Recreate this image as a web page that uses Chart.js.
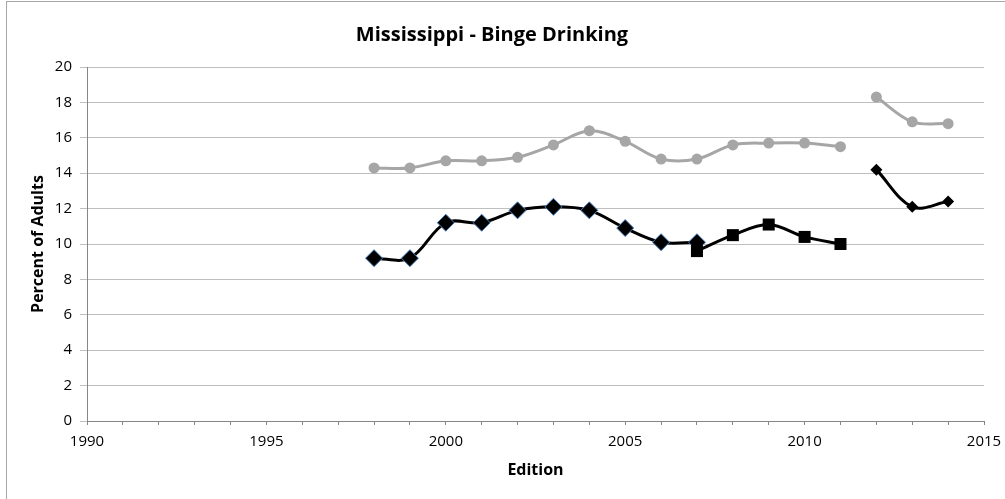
<!DOCTYPE html>
<html>
<head>
<meta charset="utf-8">
<script src="https://cdn.jsdelivr.net/npm/chart.js@4/dist/chart.umd.min.js"></script>
<style>
  html, body { margin: 0; padding: 0; background: #fff; overflow: hidden; }
  #frame { position: absolute; left: 6px; top: 1px; width: 1020px; height: 520px; border: 1px solid #a6a6a6; pointer-events: none; }
  canvas { position: absolute; left: 0; top: 0; }
</style>
</head>
<body>
<canvas id="chart" width="1005" height="499"></canvas>
<div id="frame"></div>
<script>
// all-adults series (gray), old method then new method
const usYearsA = [1998, 1999, 2000, 2001, 2002, 2003, 2004, 2005, 2006, 2007, 2008, 2009, 2010, 2011];
const usValuesA = [14.3, 14.3, 14.7, 14.7, 14.9, 15.6, 16.4, 15.8, 14.8, 14.8, 15.6, 15.7, 15.7, 15.5];
const usYearsB = [2012, 2013, 2014];
const usValuesB = [18.3, 16.9, 16.8];

// Mississippi series (black)
const msYearsA = [1998, 1999, 2000, 2001, 2002, 2003, 2004, 2005, 2006, 2007];
const msValuesA = [9.2, 9.2, 11.2, 11.2, 11.9, 12.1, 11.9, 10.9, 10.1, 10.1];
const msYearsB = [2007, 2008, 2009, 2010, 2011];
const msValuesB = [9.6, 10.5, 11.1, 10.4, 10.0];
const msYearsC = [2012, 2013, 2014];
const msValuesC = [14.2, 12.1, 12.4];

const xMin = 1990, xMax = 2015;
const yTicks = [0, 2, 4, 6, 8, 10, 12, 14, 16, 18, 20];

const pts = (xs, ys) => xs.map((x, i) => ({ x: x, y: ys[i] }));

const GRAY = '#a6a6a6';
const BLACK = '#000000';

const grayStyle = {
  borderColor: GRAY, backgroundColor: GRAY, borderWidth: 3,
  pointStyle: 'circle', pointRadius: 5.5, pointBorderWidth: 0,
  pointBackgroundColor: GRAY, tension: 0.35, order: 2
};

const data = {
  datasets: [
    Object.assign({ data: pts(usYearsA, usValuesA) }, grayStyle),
    Object.assign({ data: pts(usYearsB, usValuesB) }, grayStyle),
    {
      data: pts(msYearsA, msValuesA),
      borderColor: BLACK, borderWidth: 3, tension: 0.35, order: 1,
      pointStyle: 'rectRot', pointRadius: 8.5,
      pointBackgroundColor: BLACK, pointBorderColor: '#4a7ebb', pointBorderWidth: 1
    },
    {
      data: pts(msYearsB, msValuesB),
      borderColor: BLACK, borderWidth: 3, tension: 0.35, order: 0,
      pointStyle: 'rect', pointRadius: 8.5,
      pointBackgroundColor: BLACK, pointBorderColor: BLACK, pointBorderWidth: 0
    },
    {
      data: pts(msYearsC, msValuesC),
      borderColor: BLACK, borderWidth: 3, tension: 0.35, order: 0,
      pointStyle: 'rectRot', pointRadius: 6,
      pointBackgroundColor: BLACK, pointBorderColor: BLACK, pointBorderWidth: 0
    }
  ]
};

new Chart(document.getElementById('chart'), {
  type: 'line',
  data: data,
  options: {
    responsive: false,
    animation: false,
    layout: { padding: { left: 0, right: 21, top: 0, bottom: 0 } },
    plugins: {
      legend: { display: false },
      tooltip: { enabled: false },
      title: {
        display: true,
        text: 'Mississippi - Binge Drinking',
        color: '#000',
        font: { family: 'Open Sans', size: 20, weight: 'bold' },
        padding: { top: 23, bottom: 20 }
      }
    },
    scales: {
      x: {
        type: 'linear',
        min: xMin, max: xMax,
        afterFit: s => { s.height = 78; s.paddingRight = 0; s.paddingLeft = 0; },
        afterBuildTicks: s => {
          const t = [];
          for (let v = xMin; v <= xMax; v++) t.push({ value: v });
          s.ticks = t;
        },
        ticks: {
          autoSkip: false, maxRotation: 0, padding: 8,
          color: '#000',
          font: { family: 'Open Sans', size: 15 },
          callback: v => (v % 5 === 0 ? String(v) : '')
        },
        grid: { drawOnChartArea: false, drawTicks: true, tickLength: 4, color: '#868686' },
        border: { display: true, color: '#868686', width: 1 },
        title: {
          display: true, text: 'Edition', color: '#000',
          font: { family: 'Open Sans', size: 16, weight: 'bold' },
          padding: { top: 0, bottom: 19 }
        }
      },
      y: {
        min: 0, max: 20,
        afterFit: s => { s.width = 87; },
        afterBuildTicks: s => { s.ticks = yTicks.map(v => ({ value: v })); },
        ticks: {
          padding: 8, color: '#000',
          font: { family: 'Open Sans', size: 15 }
        },
        grid: { color: '#bfbfbf', tickLength: 7, lineWidth: 1 },
        border: { display: true, color: '#868686', width: 1 },
        title: {
          display: true, text: 'Percent of Adults', color: '#000',
          font: { family: 'Open Sans', size: 16, weight: 'bold' },
          padding: { top: 29, bottom: 0 }
        }
      }
    }
  }
});
</script>
</body>
</html>
